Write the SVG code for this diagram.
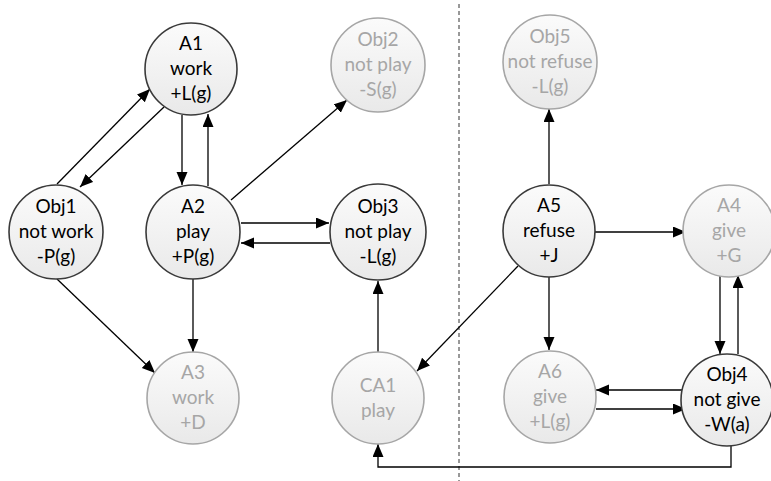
<svg xmlns="http://www.w3.org/2000/svg" width="771" height="481" viewBox="0 0 771 481">
<style>
.n circle{stroke-width:1.6}
.d circle{stroke:#3a3a3a;fill:url(#g)}
.l circle{stroke:#a6a6a6;fill:url(#g)}
text{font-family:Lato,"Liberation Sans",sans-serif;font-size:19px;text-anchor:middle}
.d text{fill:#000}
.l text{fill:#a6a6a6}
#edges line,#edges polyline{stroke:#000;stroke-width:1.3;fill:none;marker-end:url(#ah)}
</style>
<defs>
<linearGradient id="g" x1="0" y1="0" x2="0" y2="1">
<stop offset="0" stop-color="#fbfbfb"/>
<stop offset="1" stop-color="#e9e9e9"/>
</linearGradient>
<marker id="ah" markerUnits="userSpaceOnUse" markerWidth="14" markerHeight="12" refX="13" refY="5.5" orient="auto">
<path d="M0,0 L13,5.5 L0,11 z" fill="#000"/>
</marker>
</defs>
<rect width="771" height="481" fill="#fff"/>
<line x1="459" y1="4" x2="459" y2="481" stroke="#333" stroke-width="1" stroke-dasharray="4,3"/>
<g id="edges">
<line x1="57" y1="184" x2="150" y2="89"/>
<line x1="164" y1="107" x2="80" y2="187"/>
<line x1="182" y1="115" x2="182" y2="185"/>
<line x1="208" y1="186" x2="208" y2="114"/>
<line x1="231" y1="200" x2="347" y2="100"/>
<line x1="241" y1="223" x2="329" y2="223"/>
<line x1="330" y1="243" x2="241" y2="243"/>
<line x1="57" y1="279" x2="155" y2="373"/>
<line x1="193" y1="279" x2="193" y2="352"/>
<line x1="378" y1="352" x2="378" y2="281"/>
<line x1="518" y1="266" x2="417" y2="371"/>
<line x1="549" y1="184" x2="549" y2="109"/>
<line x1="595" y1="232" x2="686" y2="232"/>
<line x1="549" y1="277" x2="549" y2="350"/>
<line x1="720" y1="274" x2="720" y2="354"/>
<line x1="738" y1="354" x2="738" y2="275"/>
<line x1="685" y1="390" x2="596" y2="390"/>
<line x1="596" y1="409" x2="686" y2="409"/>
<polyline points="731,446 731,467 378,467 378,444"/>
</g>
<g id="A1" class="n d"><circle cx="191" cy="69" r="46"/><text x="191" y="50">A1</text><text x="191" y="75">work</text><text x="191" y="100">+L(g)</text></g>
<g id="Obj2" class="n l"><circle cx="378" cy="65" r="47"/><text x="378" y="46">Obj2</text><text x="378" y="71">not play</text><text x="378" y="96">-S(g)</text></g>
<g id="Obj5" class="n l"><circle cx="550" cy="62" r="47"/><text x="550" y="43">Obj5</text><text x="550" y="68">not refuse</text><text x="550" y="93">-L(g)</text></g>
<g id="Obj1" class="n d"><circle cx="56" cy="232" r="47"/><text x="56" y="213">Obj1</text><text x="56" y="238">not work</text><text x="56" y="263">-P(g)</text></g>
<g id="A2" class="n d"><circle cx="193" cy="232" r="47"/><text x="193" y="213">A2</text><text x="193" y="238">play</text><text x="193" y="263">+P(g)</text></g>
<g id="Obj3" class="n d"><circle cx="378" cy="232" r="48"/><text x="378" y="213">Obj3</text><text x="378" y="238">not play</text><text x="378" y="263">-L(g)</text></g>
<g id="A5" class="n d"><circle cx="549" cy="231" r="46"/><text x="549" y="212">A5</text><text x="549" y="237">refuse</text><text x="549" y="262">+J</text></g>
<g id="A4" class="n l"><circle cx="729" cy="231" r="46"/><text x="729" y="212">A4</text><text x="729" y="237">give</text><text x="729" y="262">+G</text></g>
<g id="A3" class="n l"><circle cx="193" cy="398" r="46"/><text x="193" y="379">A3</text><text x="193" y="404">work</text><text x="193" y="429">+D</text></g>
<g id="CA1" class="n l"><circle cx="378" cy="398" r="46"/><text x="378" y="392">CA1</text><text x="378" y="417">play</text></g>
<g id="A6" class="n l"><circle cx="550" cy="397" r="46"/><text x="550" y="378">A6</text><text x="550" y="403">give</text><text x="550" y="428">+L(g)</text></g>
<g id="Obj4" class="n d"><circle cx="727" cy="400" r="46"/><text x="727" y="381">Obj4</text><text x="727" y="406">not give</text><text x="727" y="431">-W(a)</text></g>
</svg>
